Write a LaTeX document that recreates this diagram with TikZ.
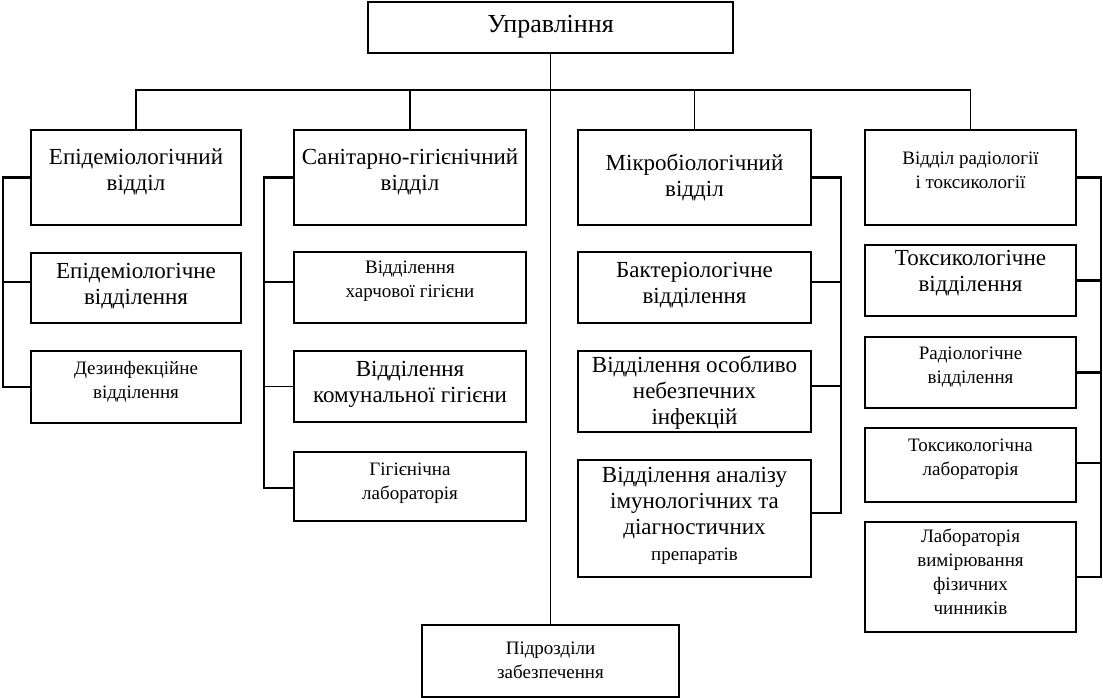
\documentclass[tikz,border=0pt]{standalone}
\usepackage{fontspec}
\setmainfont{Liberation Serif}
\newcommand\fbig{\fontsize{17.25}{19.5}\selectfont}
\newcommand\fsmall{\fontsize{14.25}{18}\selectfont}
\newcommand\ftitle{\fontsize{19.5}{22}\selectfont}
% \mkbox{name}{cx}{cy}{w}{h}
\newcommand\mkbox[5]{\node[box, minimum width=#4*0.75pt, minimum height=#5*0.75pt] (#1) at (#2,#3) {};}
\begin{document}
\begin{tikzpicture}[x=0.75pt,y=-0.75pt,
  box/.style={draw, line width=1.5pt, inner sep=0pt, outer sep=0pt},
  lbl/.style={align=center, inner sep=0pt},
  big/.style={lbl, font=\fbig},
  small/.style={lbl, font=\fsmall},
  tree/.style={line width=1.1pt},
  bus/.style={line width=1.7pt}]
\useasboundingbox (0,0) rectangle (1103,698);
% boxes
\mkbox{top}{550.5}{27.5}{365}{51}
\mkbox{epid}{136}{177.5}{210}{95}
\mkbox{san}{410}{177.5}{232}{95}
\mkbox{mikro}{694.5}{177.5}{233}{95}
\mkbox{radio}{970.5}{177.5}{211}{95}
\mkbox{e2}{136}{288}{210}{70}
\mkbox{e3}{136}{387}{210}{72}
\mkbox{s2}{410}{287.5}{232}{71}
\mkbox{s3}{410}{386.5}{232}{71}
\mkbox{s4}{410}{486.5}{232}{69}
\mkbox{m2}{694.5}{287.5}{233}{71}
\mkbox{m3}{694.5}{391.5}{233}{81}
\mkbox{m4}{694.5}{518.5}{233}{117}
\mkbox{r2}{970.5}{280.5}{211}{71}
\mkbox{r3}{970.5}{372.5}{211}{71}
\mkbox{r4}{970.5}{465}{211}{74}
\mkbox{r5}{970.5}{577}{211}{110}
\mkbox{pid}{550.5}{661}{257}{72}
% texts
\node[lbl, font=\ftitle] (ttop) at (550.5,27) {Управління};
\node[big] (tepid) at (136,172) {Епідеміологічний\\відділ};
\node[big] (tsan) at (410,172) {Санітарно-гігієнічний\\відділ};
\node[big] (tmikro) at (694.5,177) {Мікробіологічний\\відділ};
\node[small] (tradio) at (970.5,170) {Відділ радіології\\і токсикології};
\node[big] (te2) at (136,286) {Епідеміологічне\\відділення};
\node[small] (te3) at (136,382) {Дезинфекційне\\відділення};
\node[small] (ts2) at (410,281) {Відділення\\харчової гігієни};
\node[big] (ts3) at (410,384) {Відділення\\комунальної гігієни};
\node[small] (ts4) at (410,483) {Гігієнічна\\лабораторія};
\node[big] (tm2) at (694.5,285) {Бактеріологічне\\відділення};
\node[big] (tm3) at (694.5,393) {Відділення особливо\\небезпечних\\інфекцій};
\node[big] (tm4) at (694.5,516) {Відділення аналізу\\імунологічних та\\діагностичних\\{\fsmall препаратів}};
\node[big] (tr2) at (970.5,273) {Токсикологічне\\відділення};
\node[small] (tr3) at (970.5,367) {Радіологічне\\відділення};
\node[small] (tr4) at (970.5,459) {Токсикологічна\\лабораторія};
\node[small] (tr5) at (970.5,572) {Лабораторія\\вимірювання\\фізичних\\чинників};
\node[small] (tpid) at (550.5,660) {Підрозділи\\забезпечення};
% tree from top
\coordinate (hb) at (0,90);
\draw[tree] (top.south) -- (pid.north);
\draw[tree] (epid.north) -- (epid.north |- hb) -| (radio.north);
\draw[tree] (san.north) -- (san.north |- hb);
\draw[tree] (mikro.north) -- (mikro.north |- hb);
% column buses
\coordinate (b1) at (3,0);
\coordinate (b2) at (264,0);
\coordinate (b3) at (841,0);
\coordinate (b4) at (1101,0);
\draw[bus] (epid.west) -| (b1 |- e3.west) -- (e3.west);
\draw[bus] ([yshift=4.5pt]e2.west) -- ([yshift=4.5pt]e2.west -| b1);
\draw[bus] (san.west) -| ([yshift=-1pt]b2 |- s4.west) -- ([yshift=-1pt]s4.west);
\draw[bus] ([yshift=4pt]s2.west) -- ([yshift=4pt]s2.west -| b2);
\draw[tree] (s3.west) -- (s3.west -| b2);
\draw[bus] (mikro.east) -| ([yshift=4pt]b3 |- m4.east) -- ([yshift=4pt]m4.east);
\draw[bus] ([yshift=4pt]m2.east) -- ([yshift=4pt]m2.east -| b3);
\draw[tree] ([yshift=4pt]m3.east) -- ([yshift=4pt]m3.east -| b3);
\draw[bus] (radio.east) -| (b4 |- r5.east) -- (r5.east);
\draw[bus] (r2.east) -- (r2.east -| b4);
\draw[bus] (r3.east) -- (r3.east -| b4);
\draw[tree] ([yshift=1.5pt]r4.east) -- ([yshift=1.5pt]r4.east -| b4);
\end{tikzpicture}
\end{document}
